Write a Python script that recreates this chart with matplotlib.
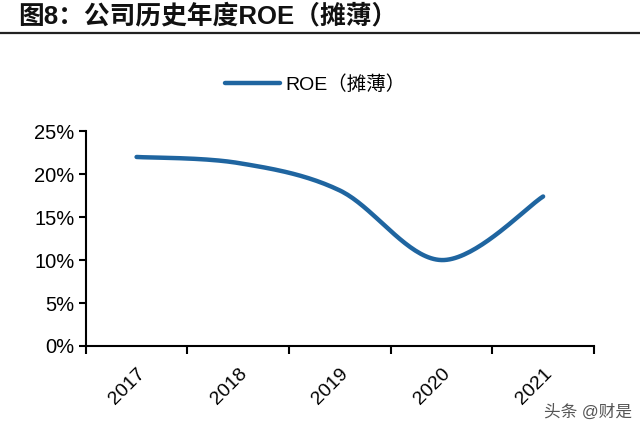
import numpy as np
import matplotlib.pyplot as plt
from matplotlib.lines import Line2D

plt.rcParams['font.family'] = ['Liberation Sans', 'Noto Sans CJK SC', 'DejaVu Sans']

years = ['2017', '2018', '2019', '2020', '2021']
roe = [22.0, 21.3, 18.1, 10.0, 17.4]
y_ticks = [0, 5, 10, 15, 20, 25]
line_color = '#1f65a0'


def catmull_rom(xs, ys, n=40):
	# excel-style smoothed line through the points
	p = np.column_stack([xs, ys]).astype(float)
	p = np.vstack([p[0], p, p[-1]])
	out = []
	for i in range(1, len(p) - 2):
		p0, p1, p2, p3 = p[i - 1], p[i], p[i + 1], p[i + 2]
		t = np.linspace(0, 1, n)[:, None]
		seg = 0.5 * ((2 * p1) + (-p0 + p2) * t + (2 * p0 - 5 * p1 + 4 * p2 - p3) * t ** 2
			+ (-p0 + 3 * p1 - 3 * p2 + p3) * t ** 3)
		out.append(seg)
	out = np.vstack(out)
	return out[:, 0], out[:, 1]


fig = plt.figure(figsize=(6.4, 4.33), dpi=100)
ax = fig.add_axes([0.134, 0.201, 0.794, 0.496])

x = np.arange(len(years))
sx, sy = catmull_rom(x, roe)
ax.plot(sx, sy, color=line_color, lw=3.2, solid_capstyle='round')

ax.set_xlim(-0.5, len(years) - 0.5)
ax.set_ylim(0, 25)
ax.set_yticks(y_ticks)
ax.set_yticklabels([f'{v}%' for v in y_ticks], fontsize=14.5)
ax.set_xticks(np.arange(len(years) + 1) - 0.5)
ax.set_xticklabels([])
ax.set_xticks(x, minor=True)
ax.set_xticklabels(years, minor=True, rotation=45, ha='right', va='top',
	rotation_mode='anchor', fontsize=14)
ax.tick_params(axis='x', which='major', length=6, width=1.5, direction='out')
ax.tick_params(axis='x', which='minor', length=0, pad=14)
ax.tick_params(axis='y', length=5, width=1.5, direction='out', pad=3)
for s in ['top', 'right']:
	ax.spines[s].set_visible(False)
for s in ['left', 'bottom']:
	ax.spines[s].set_linewidth(1.5)

# title and rule
fig.text(0.028, 0.963, '图8：公司历史年度ROE（摊薄）', fontsize=18.5, fontweight='bold',
	va='center', ha='left', color='#111111')
fig.add_artist(Line2D([0, 1], [0.923, 0.923], color='#222222', lw=1.6))

# legend
handle = Line2D([], [], color=line_color, lw=3.2, solid_capstyle='round')
fig.legend([handle], ['ROE（摊薄）'], loc='center', bbox_to_anchor=(0.493, 0.805),
	frameon=False, fontsize=14, handlelength=2.8, handletextpad=0.3)

fig.text(0.988, 0.048, '头条 @财是', fontsize=12, color='#555555', ha='right', va='center')

fig.savefig('out.png', dpi=100)
